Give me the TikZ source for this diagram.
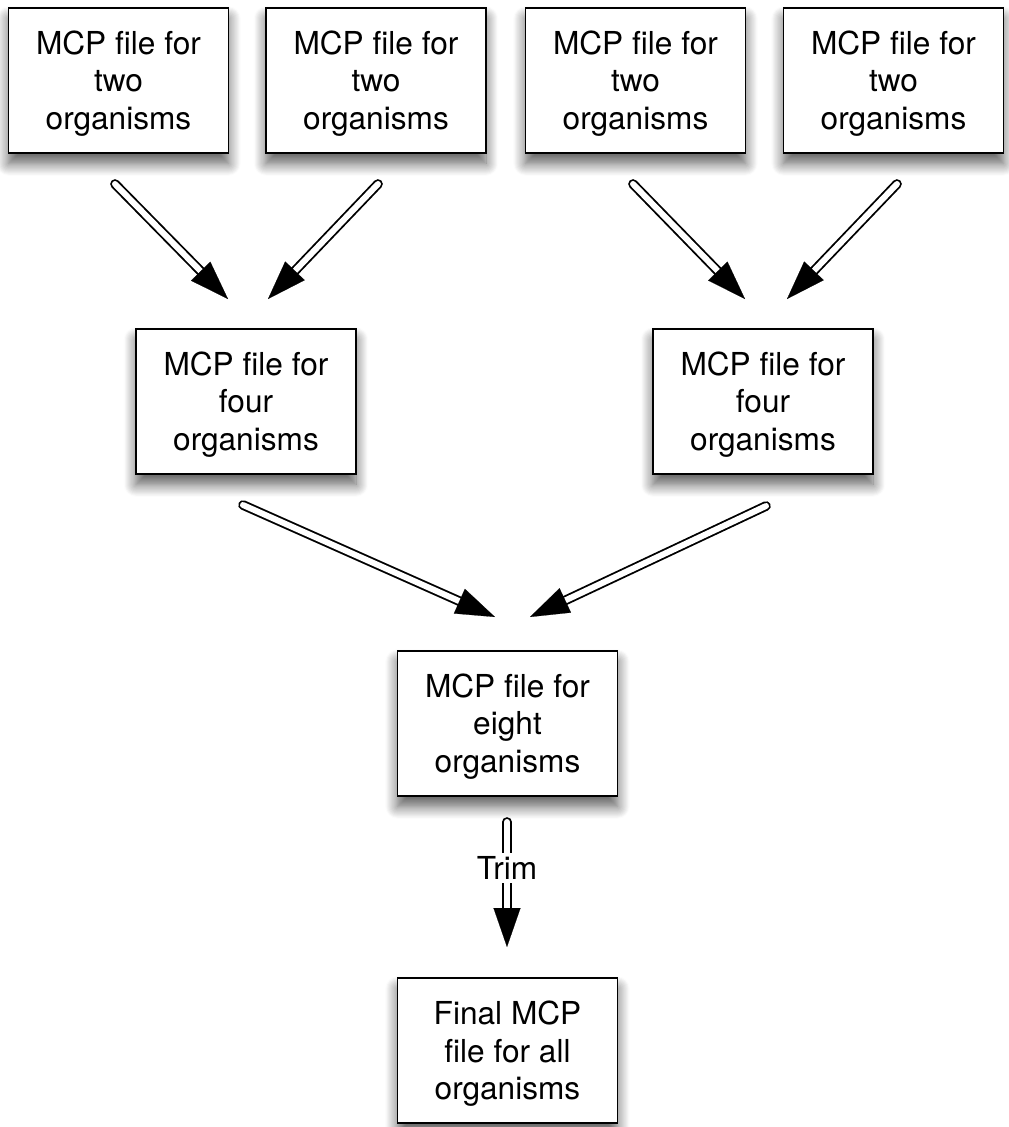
\documentclass[tikz,border=0pt]{standalone}
\usepackage{fontspec}
\setmainfont{TeX Gyre Heros}
\usetikzlibrary{arrows.meta,shadows.blur}

\begin{document}
\begin{tikzpicture}[box/.style={draw, line width=1.1pt, fill=white, minimum width=4.4cm, minimum height=2.9cm, align=center,
			font=\fontsize{18}{21.5}\selectfont, text height=60pt,
			blur shadow={shadow xshift=0pt, shadow yshift=-6pt, shadow blur radius=7pt, shadow blur steps=12, shadow opacity=65}},
		pipe/.style={postaction={draw, double, double distance=3.4pt, line width=1.05pt, line cap=round, shorten >=0.6cm},
			postaction={draw=white, line width=0.1pt, -{Triangle[length=0.78cm, width=0.54cm, color=black, fill=black]}}}]
	\useasboundingbox (0,0) rectangle (20.18,-22.54);

	% four files for two organisms
	\draw (2.37,-1.61) node[box] (two1) {MCP file for\\two\\organisms};
	\draw (7.52,-1.61) node[box] (two2) {MCP file for\\two\\organisms};
	\draw (12.71,-1.61) node[box] (two3) {MCP file for\\two\\organisms};
	\draw (17.87,-1.61) node[box] (two4) {MCP file for\\two\\organisms};

	\draw (4.92,-8.03) node[box] (four1) {MCP file for\\four\\organisms};
	\draw (15.26,-8.03) node[box] (four2) {MCP file for\\four\\organisms};

	\draw (10.15,-14.47) node[box] (eight) {MCP file for\\eight\\organisms};
	\draw (10.15,-21.01) node[box] (final) {Final MCP\\file for all\\organisms};

	% arrow ends
	\coordinate (two1-out) at (2.30,-3.68);
	\coordinate (two2-out) at (7.56,-3.68);
	\coordinate (two3-out) at (12.66,-3.68);
	\coordinate (two4-out) at (17.94,-3.68);
	\coordinate (four1-inl) at (4.56,-5.98);
	\coordinate (four1-inr) at (5.36,-5.98);
	\coordinate (four2-inl) at (14.90,-5.98);
	\coordinate (four2-inr) at (15.74,-5.98);
	\coordinate (four1-out) at (4.86,-10.10);
	\coordinate (four2-out) at (15.32,-10.12);
	\coordinate (eight-inl) at (9.90,-12.34);
	\coordinate (eight-inr) at (10.60,-12.34);
	\coordinate (eight-out) at (10.14,-16.44);
	\coordinate (final-in) at (10.14,-18.94);

	\path[pipe] (two1-out) -- (four1-inl);
	\path[pipe] (two2-out) -- (four1-inr);
	\path[pipe] (two3-out) -- (four2-inl);
	\path[pipe] (two4-out) -- (four2-inr);

	\path[pipe] (four1-out) -- (eight-inl);
	\path[pipe] (four2-out) -- (eight-inr);

	\path[pipe] (eight-out) -- (final-in);
	\node[fill=white, inner sep=2pt, font=\fontsize{18}{21.5}\selectfont] (trim) at (10.14,-17.36) {Trim};
\end{tikzpicture}
\end{document}
